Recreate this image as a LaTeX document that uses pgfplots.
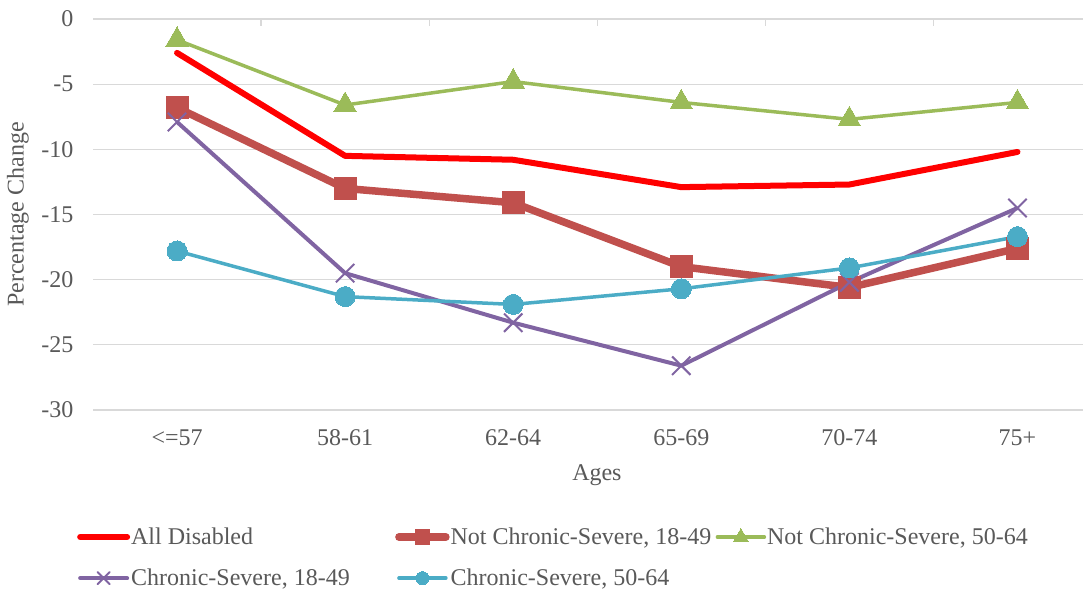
\documentclass[border=0pt]{standalone}
\usepackage{pgfplots}
\pgfplotsset{compat=1.18}
\usepackage{fontspec}
\setmainfont{Liberation Serif}

\definecolor{txt}{HTML}{595959}
\definecolor{gridc}{HTML}{D9D9D9}
\definecolor{alldis}{HTML}{FF0000}
\definecolor{ncsyoung}{HTML}{C0504D}
\definecolor{ncsold}{HTML}{9BBB59}
\definecolor{csyoung}{HTML}{8064A2}
\definecolor{csold}{HTML}{4BACC6}

\begin{document}
\begin{tikzpicture}[x=1pt,y=1pt]
\path[use as bounding box] (0,0) rectangle (1083,595);
\begin{axis}[
  at={(93pt,185pt)}, anchor=south west,
  scale only axis, width=990pt, height=391pt,
  font=\fontsize{24}{28}\selectfont,
  xmin=-0.5, xmax=5.39, ymin=-30, ymax=0,
  clip=false,
  axis line style={draw=none},
  xtick={0,1,2,3,4,5},
  xticklabels={{<=57},{58-61},{62-64},{65-69},{70-74},{75+}},
  ytick={-30,-25,-20,-15,-10,-5,0},
  /pgf/number format/assume math mode=true,
  major tick length=0pt,
  tick style={draw=gridc, line width=1.3pt},
  extra x ticks={0.5,1.5,2.5,3.5,4.5},
  extra x tick labels={},
  extra x tick style={xtick pos=top, major tick length=7pt, tick align=inside, grid=none},
  ymajorgrids,
  grid style={draw=gridc, line width=1.3pt},
  ticklabel style={text=txt},
  xticklabel style={anchor=base, yshift=-35pt},
  yticklabel style={anchor=east, xshift=-16pt},
  xlabel={Ages},
  ylabel={Percentage Change},
  label style={text=txt},
  xlabel style={at={(axis description cs:0.509,-0.166)}, anchor=center},
  ylabel style={at={(axis description cs:-0.0758,0.5)}, anchor=center},
  legend columns=3,
  legend cell align=left,
  legend style={draw=none, fill=none, text=txt, inner sep=0pt,
    at={(axis description cs:-0.0162,-0.296)}, anchor=north west,
    row sep=19pt,
    /tikz/every even column/.append style={column sep=0pt},
    /tikz/every odd column/.append style={column sep=-1pt}},
  legend image code/.code={%
    \draw[line cap=round, mark repeat=2, mark phase=2,
      every mark/.append style={scale=0.65}]
      plot coordinates {(0pt,0pt) (23.5pt,0pt) (47pt,0pt)};},
]

% All disabled
\addplot[alldis, line width=6pt, line cap=round, line join=round, no markers]
  coordinates {(0,-2.6) (1,-10.5) (2,-10.8) (3,-12.9) (4,-12.7) (5,-10.2)};
\addlegendentry{\makebox[262pt][l]{All Disabled}}

% Not chronic-severe, 18-49
\addplot[ncsyoung, line width=7.5pt, line join=round, mark=square*, mark size=11pt,
  mark options={solid, fill=ncsyoung, draw=ncsyoung, line width=0pt}]
  coordinates {(0,-6.8) (1,-13.0) (2,-14.1) (3,-19.0) (4,-20.6) (5,-17.6)};
\addlegendentry{\makebox[263pt][l]{Not Chronic-Severe, 18-49}}

% Not chronic-severe, 50-64
\addplot[ncsold, line width=3.5pt, line join=round, mark=triangle*, mark size=13pt,
  mark options={solid, fill=ncsold, draw=ncsold, line width=0pt}]
  coordinates {(0,-1.6) (1,-6.6) (2,-4.8) (3,-6.4) (4,-7.7) (5,-6.4)};
\addlegendentry{Not Chronic-Severe, 50-64}

% Chronic-severe, 18-49
\addplot[csyoung, line width=4pt, line join=round, mark=x, mark size=13pt,
  mark options={solid, draw=csyoung, line width=2pt}]
  coordinates {(0,-7.9) (1,-19.5) (2,-23.3) (3,-26.6) (4,-20.2) (5,-14.5)};
\addlegendentry{Chronic-Severe, 18-49}

% Chronic-severe, 50-64
\addplot[csold, line width=3.5pt, line join=round, mark=*, mark size=10pt,
  mark options={solid, fill=csold, draw=csold, line width=0pt}]
  coordinates {(0,-17.8) (1,-21.3) (2,-21.9) (3,-20.7) (4,-19.1) (5,-16.7)};
\addlegendentry{Chronic-Severe, 50-64}

\end{axis}
\end{tikzpicture}
\end{document}
